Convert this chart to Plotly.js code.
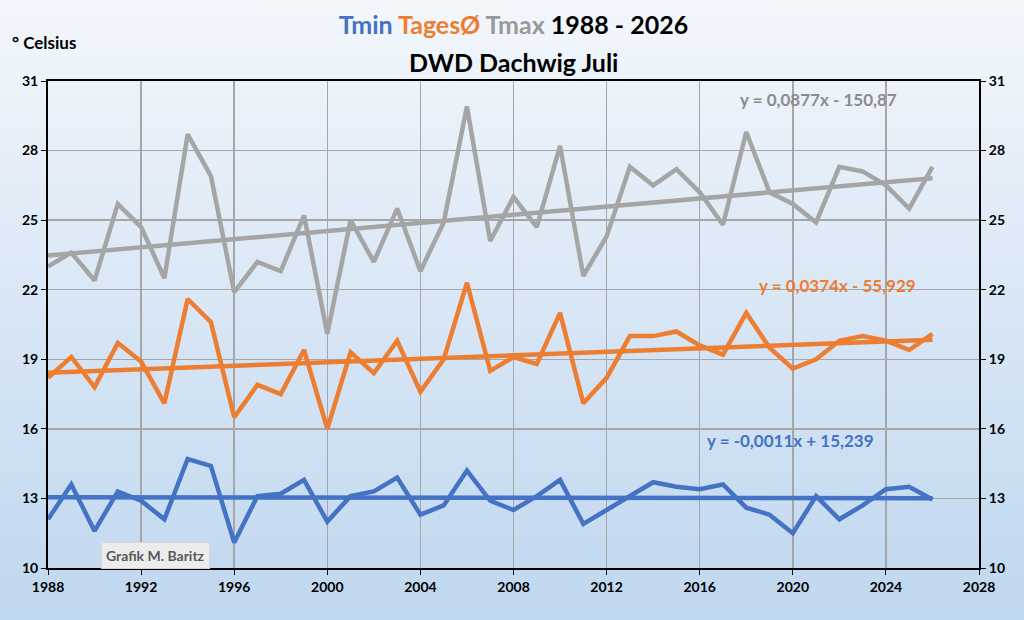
<!DOCTYPE html>
<html>
<head>
<meta charset="utf-8">
<script src="https://cdn.plot.ly/plotly-3.0.1.min.js"></script>
<style>
    html, body { margin: 0; padding: 0; }
    #chart {
        width: 1024px;
        height: 620px;
        background: linear-gradient(to bottom, #f3f7fc 0%, #dbe8f6 45%, #bfd7ef 100%);
    }
</style>
</head>
<body>
<div id="chart"></div>
<script>
// July values DWD Dachwig, 1988 - 2026
const years = [1988, 1989, 1990, 1991, 1992, 1993, 1994, 1995, 1996, 1997,
               1998, 1999, 2000, 2001, 2002, 2003, 2004, 2005, 2006, 2007,
               2008, 2009, 2010, 2011, 2012, 2013, 2014, 2015, 2016, 2017,
               2018, 2019, 2020, 2021, 2022, 2023, 2024, 2025, 2026];

const tmin = [12.1, 13.6, 11.6, 13.3, 12.9, 12.1, 14.7, 14.4, 11.1, 13.1,
              13.2, 13.8, 12.0, 13.1, 13.3, 13.9, 12.3, 12.7, 14.2, 12.9,
              12.5, 13.1, 13.8, 11.9, 12.5, 13.1, 13.7, 13.5, 13.4, 13.6,
              12.6, 12.3, 11.5, 13.1, 12.1, 12.7, 13.4, 13.5, 12.95];

const tmean = [18.2, 19.1, 17.8, 19.7, 18.9, 17.1, 21.6, 20.6, 16.5, 17.9,
               17.5, 19.4, 16.0, 19.3, 18.4, 19.8, 17.6, 19.0, 22.3, 18.5,
               19.1, 18.8, 21.0, 17.1, 18.2, 20.0, 20.0, 20.2, 19.6, 19.2,
               21.0, 19.5, 18.6, 19.0, 19.8, 20.0, 19.8, 19.4, 20.1];

const tmax = [23.0, 23.6, 22.4, 25.7, 24.7, 22.5, 28.7, 26.9, 21.9, 23.2,
              22.8, 25.2, 20.1, 25.0, 23.2, 25.5, 22.8, 24.9, 29.9, 24.1,
              26.0, 24.7, 28.2, 22.6, 24.3, 27.3, 26.5, 27.2, 26.2, 24.8,
              28.8, 26.2, 25.7, 24.9, 27.3, 27.1, 26.5, 25.5, 27.3];

// linear trend coefficients as printed in the chart (Tmin, TagesØ, Tmax)
const trendSlope = [-0.0011, 0.0374, 0.0877];
const trendIntercept = [15.239, -55.929, -150.87];
const trendLabels = ['y = -0,0011x + 15,239', 'y = 0,0374x - 55,929', 'y = 0,0877x - 150,87'];

const seriesNames = ['Tmin', 'TagesØ', 'Tmax'];
const colors = ['#4472c4', '#ed7d31', '#a5a5a5'];
const labelColors = ['#4472c4', '#ed7d31', '#8c8c8c'];

const yTicks = [10, 13, 16, 19, 22, 25, 28, 31];
const xTicks = [1988, 1992, 1996, 2000, 2004, 2008, 2012, 2016, 2020, 2024, 2028];

const fontFamily = 'Lato, "Open Sans", sans-serif';

const seriesValues = [tmin, tmean, tmax];
const traces = [];

seriesValues.forEach(function(vals, i) {
    traces.push({
        x: years,
        y: vals,
        type: 'scatter',
        mode: 'lines',
        name: seriesNames[i],
        line: { color: colors[i], width: 4.5 },
        hoverinfo: 'x+y'
    });
});

// trend lines over first and last year
const xStart = years[0];
const xEnd = years[years.length - 1];
seriesValues.forEach(function(vals, i) {
    traces.push({
        x: [xStart, xEnd],
        y: [trendSlope[i] * xStart + trendIntercept[i], trendSlope[i] * xEnd + trendIntercept[i]],
        type: 'scatter',
        mode: 'lines',
        name: 'Trend ' + seriesNames[i],
        line: { color: colors[i], width: 4.5 },
        hoverinfo: 'skip'
    });
});

// equation labels positions (data coords)
const labelX = [2019.9, 2021.9, 2021.1];
const labelY = [15.5, 22.2, 30.2];

const annotations = [];
for (let i = 0; i < 3; i++) {
    annotations.push({
        x: labelX[i], y: labelY[i], xref: 'x', yref: 'y',
        text: trendLabels[i],
        showarrow: false,
        font: { family: fontFamily, size: 17, color: labelColors[i], weight: 'bold' }
    });
}

// second title line (paper coords, above plot area)
annotations.push({
    x: 0.5, y: 1.039, xref: 'paper', yref: 'paper',
    xanchor: 'center', yanchor: 'middle',
    text: 'DWD Dachwig Juli',
    showarrow: false,
    font: { family: fontFamily, size: 25, color: '#000000', weight: 'bold' }
});

// unit label
annotations.push({
    x: -0.041, y: 1.08, xref: 'paper', yref: 'paper',
    xanchor: 'left', yanchor: 'middle',
    text: '° Celsius',
    showarrow: false,
    font: { family: fontFamily, size: 17, color: '#000000', weight: 'bold' }
});

// author box
annotations.push({
    x: 1992.6, y: 10.55, xref: 'x', yref: 'y',
    xanchor: 'center', yanchor: 'middle',
    text: 'Grafik M. Baritz',
    showarrow: false,
    bgcolor: '#ececec',
    bordercolor: '#d6d6d6',
    borderwidth: 1,
    borderpad: 4,
    font: { family: fontFamily, size: 14, color: '#595959', weight: 'bold' }
});

const titleText = '<span style="color:#4472c4">Tmin</span> ' +
                  '<span style="color:#ed7d31">TagesØ</span> ' +
                  '<span style="color:#999999">Tmax</span> 1988 - 2026';

const tickFont = { family: fontFamily, size: 14, color: '#000000', weight: 'bold' };

const layout = {
    width: 1024,
    height: 620,
    paper_bgcolor: 'rgba(0,0,0,0)',
    plot_bgcolor: 'rgba(0,0,0,0)',
    showlegend: false,
    margin: { l: 48, r: 45, t: 81, b: 52 },
    title: {
        text: titleText,
        x: 0.5,
        xref: 'paper',
        y: 1 - 25 / 620,
        yref: 'container',
        yanchor: 'middle',
        font: { family: fontFamily, size: 25, color: '#000000', weight: 'bold' }
    },
    xaxis: {
        range: [1988, 2028],
        tickvals: xTicks,
        showgrid: true,
        gridcolor: '#a6a6a6',
        gridwidth: 1.5,
        zeroline: false,
        showline: true,
        linecolor: '#000000',
        linewidth: 2,
        mirror: true,
        ticks: 'outside',
        ticklen: 5,
        tickcolor: '#000000',
        tickfont: tickFont
    },
    yaxis: {
        range: [10, 31],
        tickvals: yTicks,
        showgrid: true,
        gridcolor: '#a6a6a6',
        gridwidth: 1.5,
        zeroline: false,
        showline: true,
        linecolor: '#000000',
        linewidth: 2,
        ticks: 'outside',
        ticklen: 5,
        tickcolor: '#000000',
        tickfont: tickFont
    },
    yaxis2: {
        range: [10, 31],
        tickvals: yTicks,
        overlaying: 'y',
        side: 'right',
        showgrid: false,
        zeroline: false,
        showline: true,
        linecolor: '#000000',
        linewidth: 2,
        ticks: 'outside',
        ticklen: 5,
        tickcolor: '#000000',
        tickfont: tickFont
    },
    annotations: annotations
};

// invisible trace so the right axis is drawn
traces.push({
    x: [xStart], y: [tmax[0]], yaxis: 'y2', type: 'scatter', mode: 'markers',
    marker: { opacity: 0 }, hoverinfo: 'skip', showlegend: false
});

Plotly.newPlot('chart', traces, layout, { displayModeBar: false, staticPlot: true });
</script>
</body>
</html>
